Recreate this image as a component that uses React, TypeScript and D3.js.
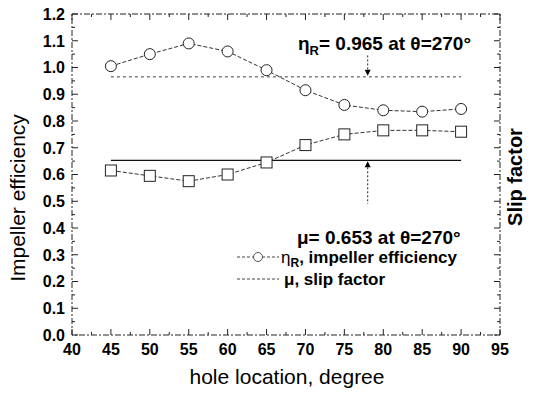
import React from "react";
import * as d3 from "d3";

const holeLocations = [45, 50, 55, 60, 65, 70, 75, 80, 85, 90];
const efficiency = [1.005, 1.05, 1.09, 1.06, 0.99, 0.915, 0.86, 0.84, 0.835, 0.845];
const slipFactor = [0.615, 0.595, 0.575, 0.6, 0.645, 0.71, 0.75, 0.765, 0.765, 0.76];
const xTicks = [40, 45, 50, 55, 60, 65, 70, 75, 80, 85, 90, 95];
const yTicks = [0, 0.1, 0.2, 0.3, 0.4, 0.5, 0.6, 0.7, 0.8, 0.9, 1.0, 1.1, 1.2];
const etaRef = 0.965;
const muRef = 0.653;
const refRange = [45, 90];
const arrowX = 78;

const W = 538, H = 395;
const L = 72, R = 500, T = 14, B = 335;

export default function App() {
  const x = d3.scaleLinear().domain([40, 95]).range([L, R]);
  const y = d3.scaleLinear().domain([0, 1.2]).range([B, T]);
  const line = d3.line<[number, number]>().x(d => x(d[0])).y(d => y(d[1]));
  const effPts = holeLocations.map((h, i) => [h, efficiency[i]] as [number, number]);
  const slipPts = holeLocations.map((h, i) => [h, slipFactor[i]] as [number, number]);
  const font = "'Liberation Sans', Arial, sans-serif";
  const minorY = d3.range(0, 1.2001, 0.05);
  const minorX = d3.range(40, 95.001, 2.5);

  return (
    <svg width={W} height={H} style={{ position: "absolute", left: 0, top: 0, background: "#fff" }}
      fontFamily={font}>
      <rect x={0} y={0} width={W} height={H} fill="#fff" />
      {/* frame */}
      <rect x={L} y={T} width={R - L} height={B - T} fill="none" stroke="#222" strokeWidth={1} strokeDasharray="6,2,2,2" />
      {/* ticks */}
      {minorY.map((v, i) => {
        const major = i % 2 === 0;
        const len = major ? 6 : 3;
        return (
          <g key={"yt" + i} stroke="#222" strokeWidth={1}>
            <line x1={L} x2={L + len} y1={y(v)} y2={y(v)} />
            <line x1={R} x2={R - len} y1={y(v)} y2={y(v)} />
          </g>
        );
      })}
      {minorX.map((v, i) => {
        const major = i % 2 === 0;
        const len = major ? 6 : 3;
        return (
          <g key={"xt" + i} stroke="#222" strokeWidth={1}>
            <line x1={x(v)} x2={x(v)} y1={B} y2={B - len} />
            <line x1={x(v)} x2={x(v)} y1={T} y2={T + len} />
          </g>
        );
      })}
      {yTicks.map(v => (
        <text key={"yl" + v} x={L - 7} y={y(v)} dy="0.36em" textAnchor="end" fontSize={16} fontWeight="bold" fill="#000">
          {v.toFixed(1)}
        </text>
      ))}
      {xTicks.map(v => (
        <text key={"xl" + v} x={x(v)} y={B + 20} textAnchor="middle" fontSize={16} fontWeight="bold" fill="#000">
          {v}
        </text>
      ))}
      {/* axis titles */}
      <text x={287} y={384} textAnchor="middle" fontSize={21} fill="#000">hole location, degree</text>
      <text transform={`translate(25,${198}) rotate(-90)`} textAnchor="middle" fontSize={21} fill="#000">Impeller efficiency</text>
      <text transform={`translate(522,${177}) rotate(-90)`} textAnchor="middle" fontSize={20} fontWeight="bold" fill="#000">Slip factor</text>

      {/* reference lines */}
      <line x1={x(refRange[0])} x2={x(refRange[1])} y1={y(etaRef)} y2={y(etaRef)} stroke="#444" strokeWidth={1} strokeDasharray="3,3" />
      <line x1={x(refRange[0])} x2={x(refRange[1])} y1={y(muRef)} y2={y(muRef)} stroke="#111" strokeWidth={1.2} />
      {/* arrows */}
      <line x1={x(arrowX)} x2={x(arrowX)} y1={y(1.045)} y2={y(etaRef) - 3} stroke="#222" strokeWidth={1} strokeDasharray="2,2" />
      <path d={`M${x(arrowX) - 3},${y(etaRef) - 7} L${x(arrowX) + 3},${y(etaRef) - 7} L${x(arrowX)},${y(etaRef) - 1} Z`} fill="#000" />
      <line x1={x(arrowX)} x2={x(arrowX)} y1={y(muRef) + 3} y2={y(0.49)} stroke="#222" strokeWidth={1} strokeDasharray="2,2" />
      <path d={`M${x(arrowX) - 3},${y(muRef) + 7} L${x(arrowX) + 3},${y(muRef) + 7} L${x(arrowX)},${y(muRef) + 1} Z`} fill="#000" />

      {/* series */}
      <path d={line(effPts) || ""} fill="none" stroke="#333" strokeWidth={1} strokeDasharray="4,2" />
      <path d={line(slipPts) || ""} fill="none" stroke="#333" strokeWidth={1} strokeDasharray="4,2" />
      {effPts.map((p, i) => (
        <circle key={"c" + i} cx={x(p[0])} cy={y(p[1])} r={5.5} fill="#fff" stroke="#222" strokeWidth={1} />
      ))}
      {slipPts.map((p, i) => (
        <rect key={"s" + i} x={x(p[0]) - 5.5} y={y(p[1]) - 5.5} width={11} height={11} fill="#fff" stroke="#222" strokeWidth={1} />
      ))}

      {/* annotations */}
      <text x={298} y={50} fontSize={19} fontWeight="bold" fill="#000">
        <tspan>η</tspan><tspan fontSize={13} dy={5}>R</tspan><tspan dy={-5}>= 0.965 at θ=270°</tspan>
      </text>
      <text x={297} y={244} fontSize={19} fontWeight="bold" fill="#000">
        <tspan>μ= 0.653 at θ=270°</tspan>
      </text>

      {/* legend */}
      <line x1={237} x2={279} y1={257} y2={257} stroke="#444" strokeWidth={1} strokeDasharray="3,2" />
      <circle cx={258} cy={257} r={4.5} fill="#fff" stroke="#555" strokeWidth={1} />
      <text x={281} y={263} fontSize={17} fontWeight="bold" fill="#000">
        <tspan fontWeight="normal">η</tspan><tspan fontSize={12} dy={4}>R</tspan><tspan dy={-4}>, impeller efficiency</tspan>
      </text>
      <line x1={237} x2={279} y1={279} y2={279} stroke="#444" strokeWidth={1} strokeDasharray="3,2" />
      <text x={284} y={285} fontSize={17} fontWeight="bold" fill="#000">μ, slip factor</text>
    </svg>
  );
}
